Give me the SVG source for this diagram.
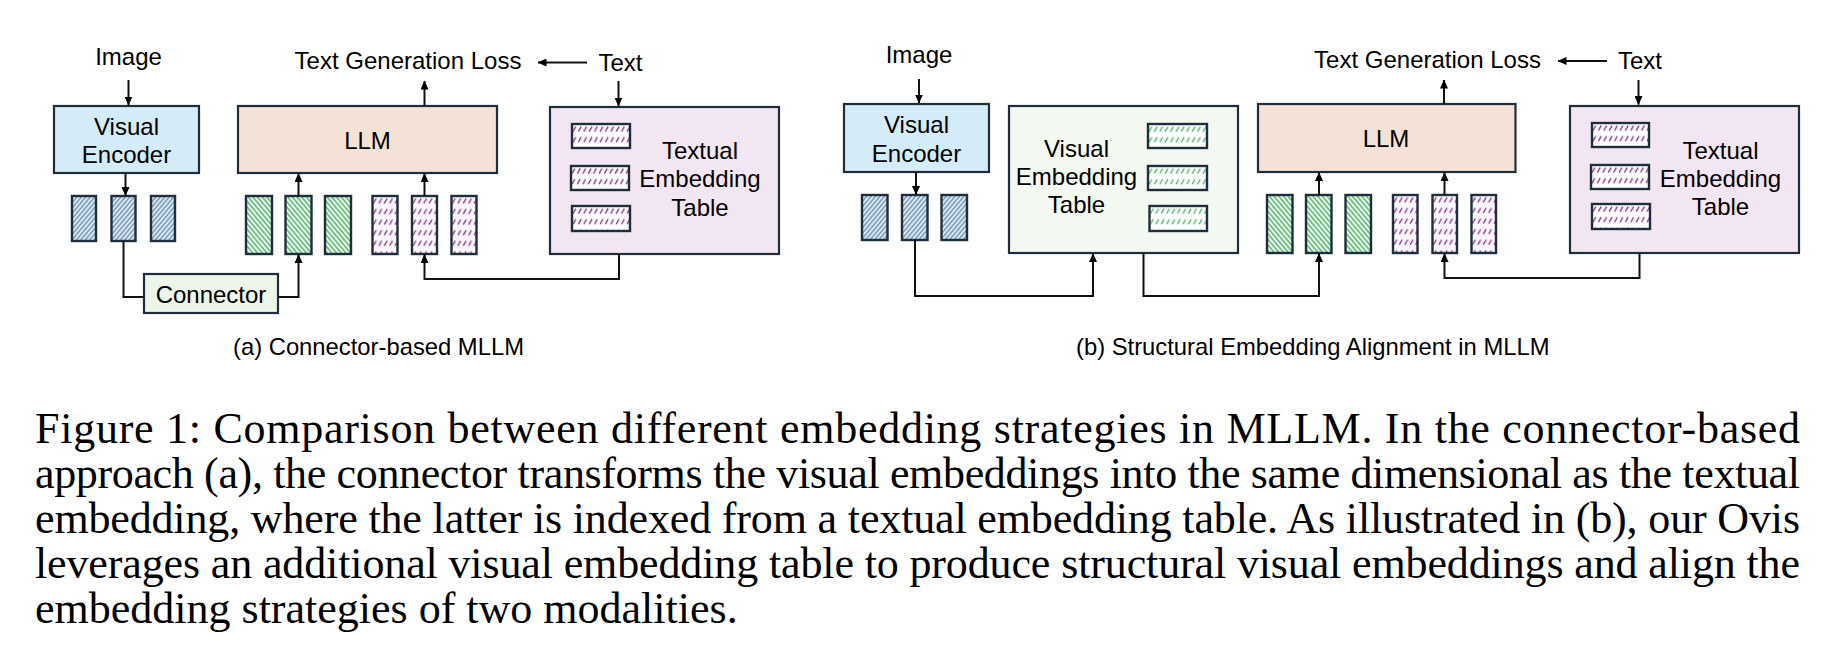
<svg xmlns="http://www.w3.org/2000/svg" width="1838" height="654" viewBox="0 0 1838 654">
<style>
.lbl{font-family:"Liberation Sans",Arial,sans-serif;font-size:24px;fill:#000;text-anchor:middle}
.cap{font-family:"Liberation Sans",Arial,sans-serif;font-size:23.8px;fill:#000}
.para{font-family:"Liberation Serif","Times New Roman",serif;font-size:44px;fill:#000}
.box{stroke:#1e2e3c;stroke-width:2.2}
.tok{stroke:#1e2e3c;stroke-width:2.4}
.ve{fill:#d4ebf8}
.llm{fill:#f5e2d6}
.tt{fill:#f3e6f3}
.vt{fill:#f3f8f1}
.cn{fill:#edf5e8}
.wire{fill:none;stroke:#111;stroke-width:2}
</style>
<defs>
<marker id="ah" markerUnits="userSpaceOnUse" markerWidth="9" markerHeight="8" refX="8.5" refY="4" orient="auto">
<path d="M0,0 L9,4 L0,8 z" fill="#000"/>
</marker>
<pattern id="pBlue" patternUnits="userSpaceOnUse" width="3.4" height="10" patternTransform="rotate(40)">
<rect width="3.4" height="10" fill="#d8e9f4"/>
<line x1="1" y1="0" x2="1" y2="10" stroke="#4f7393" stroke-width="1"/>
</pattern>
<pattern id="pGreen" patternUnits="userSpaceOnUse" width="3.6" height="10" patternTransform="rotate(-40)">
<rect width="3.6" height="10" fill="#eef8ef"/>
<line x1="1" y1="0" x2="1" y2="10" stroke="#3fae5c" stroke-width="1.3"/>
</pattern>
<pattern id="pPurp" patternUnits="userSpaceOnUse" width="5.4" height="10.6" x="0" y="0">
<rect width="5.4" height="10.6" fill="#fbf6fb"/>
<line x1="1" y1="7.4" x2="3.8" y2="2.4" stroke="#833585" stroke-width="1.3"/>
</pattern>
<pattern id="pPurpS" patternUnits="userSpaceOnUse" width="5.4" height="10.6" x="0" y="0">
<rect width="5.4" height="10.6" fill="#ffffff"/>
<line x1="1" y1="7.6" x2="3.8" y2="2.6" stroke="#833585" stroke-width="1.3"/>
</pattern>
<pattern id="pGreenS" patternUnits="userSpaceOnUse" width="5.4" height="10.6" x="0" y="0">
<rect width="5.4" height="10.6" fill="#ffffff"/>
<line x1="1" y1="7.6" x2="3.8" y2="2.6" stroke="#3fae5c" stroke-width="1.2"/>
</pattern>
</defs>

<!-- ===== Panel (a) ===== -->
<g id="a-image-label"><text class="lbl" x="128.5" y="65">Image</text></g>
<g id="a-visual-encoder">
<rect class="box ve" x="54" y="106" width="145" height="67"/>
<text class="lbl" x="126.5" y="135">Visual</text>
<text class="lbl" x="126.5" y="163">Encoder</text>
</g>
<g id="a-visual-tokens">
<g transform="translate(72,196)"><rect class="tok" width="24" height="45" fill="url(#pBlue)"/></g>
<g transform="translate(111.5,196)"><rect class="tok" width="24" height="45" fill="url(#pBlue)"/></g>
<g transform="translate(151,196)"><rect class="tok" width="24" height="45" fill="url(#pBlue)"/></g>
</g>
<g id="a-connector">
<rect class="box cn" x="144" y="274" width="134" height="39"/>
<text class="lbl" x="211" y="303">Connector</text>
</g>
<g id="a-llm">
<rect class="box llm" x="238" y="106" width="259" height="67"/>
<text class="lbl" x="367.5" y="149">LLM</text>
</g>
<g id="a-loss-label"><text class="lbl" x="408" y="69">Text Generation Loss</text></g>
<g id="a-text-label"><text class="lbl" x="620.5" y="70.5">Text</text></g>
<g id="a-green-tokens">
<g transform="translate(246,196)"><rect class="tok" width="26" height="58" fill="url(#pGreen)"/></g>
<g transform="translate(285.5,196)"><rect class="tok" width="26" height="58" fill="url(#pGreen)"/></g>
<g transform="translate(325,196)"><rect class="tok" width="26" height="58" fill="url(#pGreen)"/></g>
</g>
<g id="a-purple-tokens">
<g transform="translate(372.5,196)"><rect class="tok" width="25" height="58" fill="url(#pPurp)"/></g>
<g transform="translate(412,196)"><rect class="tok" width="25" height="58" fill="url(#pPurp)"/></g>
<g transform="translate(451.5,196)"><rect class="tok" width="25" height="58" fill="url(#pPurp)"/></g>
</g>
<g id="a-textual-table">
<rect class="box tt" x="550" y="107" width="229" height="147"/>
<g transform="translate(572,124)"><rect class="tok" width="58" height="24" fill="url(#pPurpS)"/></g>
<g transform="translate(571,166)"><rect class="tok" width="58" height="24" fill="url(#pPurpS)"/></g>
<g transform="translate(572,206)"><rect class="tok" width="58" height="25" fill="url(#pPurpS)"/></g>
<text class="lbl" x="700" y="159">Textual</text>
<text class="lbl" x="700" y="187">Embedding</text>
<text class="lbl" x="700" y="216">Table</text>
</g>
<g id="a-caption"><text class="cap" x="233" y="355">(a) Connector-based MLLM</text></g>

<!-- ===== Panel (b) ===== -->
<g id="b-image-label"><text class="lbl" x="919" y="63">Image</text></g>
<g id="b-visual-encoder">
<rect class="box ve" x="844" y="104" width="145" height="68"/>
<text class="lbl" x="916.5" y="133">Visual</text>
<text class="lbl" x="916.5" y="162">Encoder</text>
</g>
<g id="b-visual-tokens">
<g transform="translate(862,195)"><rect class="tok" width="25.5" height="45" fill="url(#pBlue)"/></g>
<g transform="translate(902,195)"><rect class="tok" width="25.5" height="45" fill="url(#pBlue)"/></g>
<g transform="translate(941.5,195)"><rect class="tok" width="25.5" height="45" fill="url(#pBlue)"/></g>
</g>
<g id="b-visual-table">
<rect class="box vt" x="1009" y="106" width="229" height="147"/>
<g transform="translate(1148,124)"><rect class="tok" width="59" height="24" fill="url(#pGreenS)"/></g>
<g transform="translate(1148,166)"><rect class="tok" width="59" height="24" fill="url(#pGreenS)"/></g>
<g transform="translate(1149.5,206)"><rect class="tok" width="57.5" height="25" fill="url(#pGreenS)"/></g>
<text class="lbl" x="1076.5" y="157">Visual</text>
<text class="lbl" x="1076.5" y="185">Embedding</text>
<text class="lbl" x="1076.5" y="213">Table</text>
</g>
<g id="b-llm">
<rect class="box llm" x="1258" y="104" width="257.5" height="68"/>
<text class="lbl" x="1386" y="147">LLM</text>
</g>
<g id="b-loss-label"><text class="lbl" x="1427.5" y="67.5">Text Generation Loss</text></g>
<g id="b-text-label"><text class="lbl" x="1640" y="69">Text</text></g>
<g id="b-green-tokens">
<g transform="translate(1267,195)"><rect class="tok" width="25.5" height="58" fill="url(#pGreen)"/></g>
<g transform="translate(1306,195)"><rect class="tok" width="25.5" height="58" fill="url(#pGreen)"/></g>
<g transform="translate(1345.5,195)"><rect class="tok" width="25.5" height="58" fill="url(#pGreen)"/></g>
</g>
<g id="b-purple-tokens">
<g transform="translate(1393,195)"><rect class="tok" width="24.5" height="58" fill="url(#pPurp)"/></g>
<g transform="translate(1432.5,195)"><rect class="tok" width="24.5" height="58" fill="url(#pPurp)"/></g>
<g transform="translate(1471.5,195)"><rect class="tok" width="24.5" height="58" fill="url(#pPurp)"/></g>
</g>
<g id="b-textual-table">
<rect class="box tt" x="1570" y="106" width="229" height="147"/>
<g transform="translate(1592,123)"><rect class="tok" width="57" height="24" fill="url(#pPurpS)"/></g>
<g transform="translate(1591,165)"><rect class="tok" width="58" height="24" fill="url(#pPurpS)"/></g>
<g transform="translate(1592,204)"><rect class="tok" width="58" height="25" fill="url(#pPurpS)"/></g>
<text class="lbl" x="1720.5" y="159">Textual</text>
<text class="lbl" x="1720.5" y="187">Embedding</text>
<text class="lbl" x="1720.5" y="215">Table</text>
</g>
<g id="b-caption"><text class="cap" x="1076" y="355">(b) Structural Embedding Alignment in MLLM</text></g>

<!-- ===== Connectors ===== -->
<g id="connectors" class="wire">
<!-- (a) -->
<path d="M128.5,80 V105" marker-end="url(#ah)"/>
<path d="M125.5,173 V195.5" marker-end="url(#ah)"/>
<path d="M424.5,106 V81" marker-end="url(#ah)"/>
<path d="M587,62.5 H538" marker-end="url(#ah)"/>
<path d="M618.5,81 V106" marker-end="url(#ah)"/>
<path d="M298.5,196 V173.5" marker-end="url(#ah)"/>
<path d="M424.5,196 V173.5" marker-end="url(#ah)"/>
<path d="M123.5,241 V297 H144"/>
<path d="M278,297 H298.5 V254.5" marker-end="url(#ah)"/>
<path d="M619,254 V279 H424.5 V254.5" marker-end="url(#ah)"/>
<!-- (b) -->
<path d="M919,79 V103" marker-end="url(#ah)"/>
<path d="M916,172 V194.5" marker-end="url(#ah)"/>
<path d="M915,240 V296 H1093 V253.5" marker-end="url(#ah)"/>
<path d="M1143.5,253 V296 H1319 V253.5" marker-end="url(#ah)"/>
<path d="M1319,195 V172.5" marker-end="url(#ah)"/>
<path d="M1444.5,195 V172.5" marker-end="url(#ah)"/>
<path d="M1444,104 V80" marker-end="url(#ah)"/>
<path d="M1607,61 H1558" marker-end="url(#ah)"/>
<path d="M1638.5,80 V104.5" marker-end="url(#ah)"/>
<path d="M1639.5,253 V278 H1444.5 V253.5" marker-end="url(#ah)"/>
</g>

<!-- ===== Figure caption ===== -->
<g id="figure-caption">
<text class="para" x="35" y="443" textLength="1765" lengthAdjust="spacing">Figure 1: Comparison between different embedding strategies in MLLM. In the connector-based</text>
<text class="para" x="35" y="488" textLength="1765" lengthAdjust="spacing">approach (a), the connector transforms the visual embeddings into the same dimensional as the textual</text>
<text class="para" x="35" y="533" textLength="1765" lengthAdjust="spacing">embedding, where the latter is indexed from a textual embedding table. As illustrated in (b), our Ovis</text>
<text class="para" x="35" y="578" textLength="1765" lengthAdjust="spacing">leverages an additional visual embedding table to produce structural visual embeddings and align the</text>
<text class="para" x="35" y="623">embedding strategies of two modalities.</text>
</g>
</svg>
